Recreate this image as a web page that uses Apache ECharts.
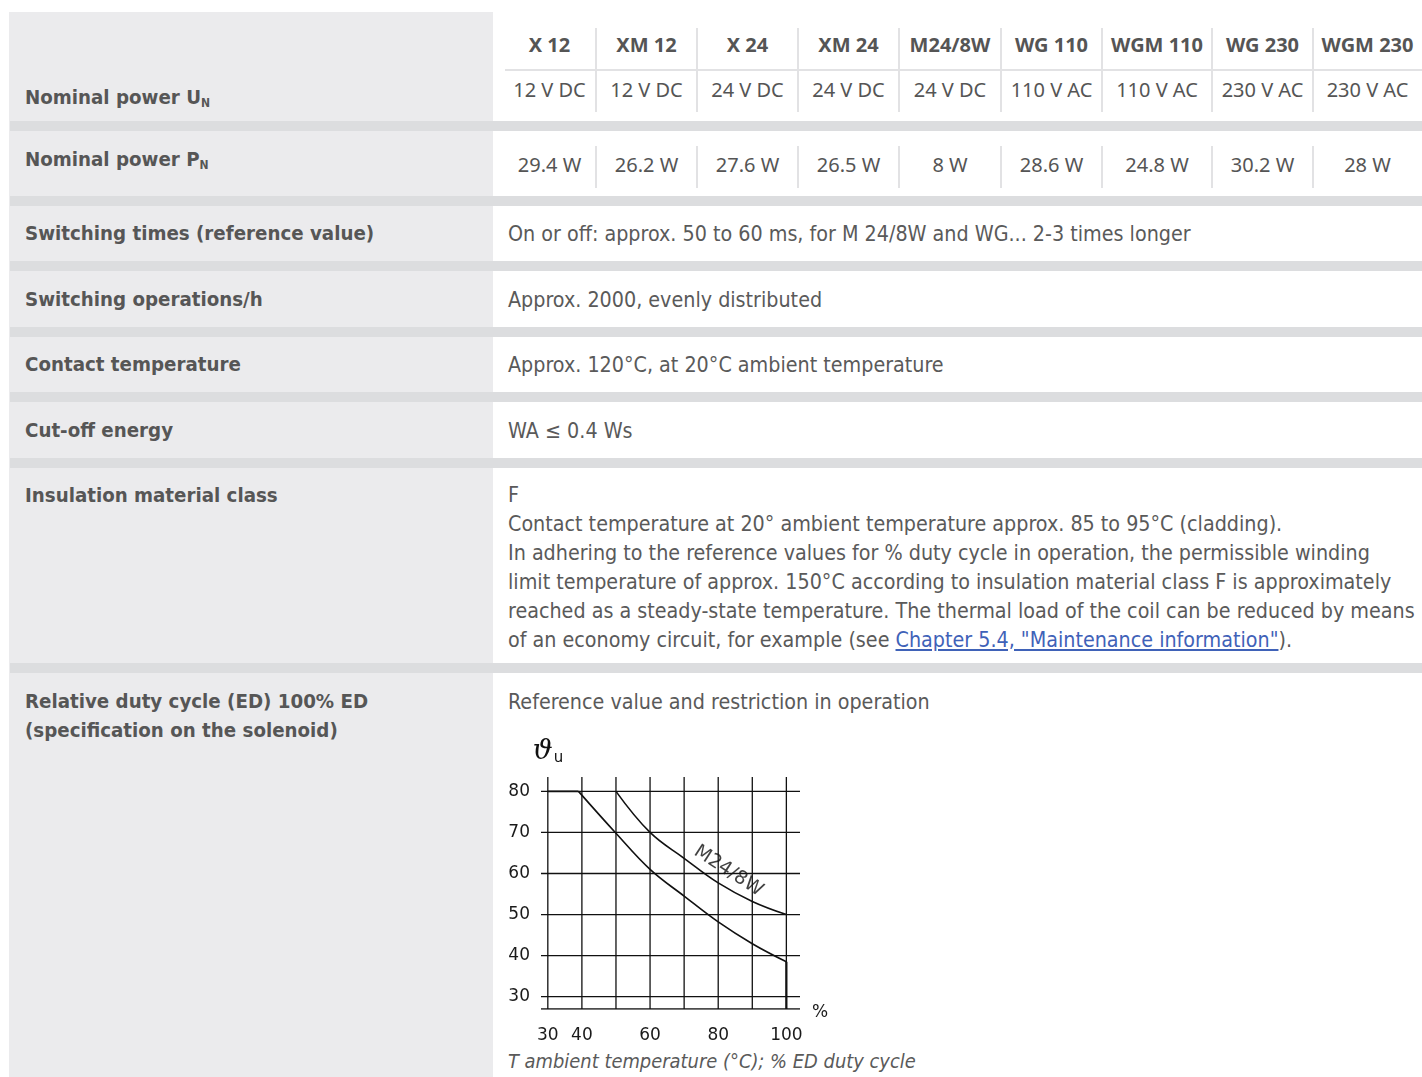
<!DOCTYPE html>
<html><head><meta charset="utf-8">
<script src="https://cdn.jsdelivr.net/npm/echarts@6/dist/echarts.min.js"></script>
<style>
html,body{margin:0;padding:0;background:#fff;width:1422px;height:1077px;overflow:hidden;}
body{position:relative;font-family:"DejaVu Sans Condensed","DejaVu Sans",sans-serif;color:#565656;}
.a{position:absolute;white-space:nowrap;}
.leftcol{left:9px;top:12px;width:484px;height:1065px;background:#ebebed;}
.band{left:10px;width:1412px;height:10px;background:#dcdddf;}
.lab{left:25px;font-weight:bold;font-size:20.3px;line-height:29px;color:#565656;}
.lab sub{font-size:12px;vertical-align:-3px;line-height:0;}
.txt{left:508px;font-size:21.3px;line-height:29px;color:#5a5a5a;}
.hname{font-family:"Noto Sans",sans-serif;font-weight:bold;font-size:20px;line-height:29px;text-align:center;color:#555;}
.hval{font-family:"Noto Sans",sans-serif;font-size:20px;line-height:29px;text-align:center;color:#555;}
.vl{width:2px;background:#e2e2e4;}
.hl{height:2px;background:#e2e2e4;}
a{color:#3f62b8;text-decoration:underline;}
.cap{left:508px;font-size:19.9px;line-height:29px;font-style:italic;color:#5a5a5a;}
#chart{position:absolute;left:495px;top:725px;width:360px;height:345px;}
</style>
</head>
<body>
<div id="page"></div>
<div id="chart"></div>
<script>
// ---------- table data ----------
const models   = ["X 12","XM 12","X 24","XM 24","M24/8W","WG 110","WGM 110","WG 230","WGM 230"];
const voltages = ["12 V DC","12 V DC","24 V DC","24 V DC","24 V DC","110 V AC","110 V AC","230 V AC","230 V AC"];
const powers   = ["29.4 W","26.2 W","27.6 W","26.5 W","8 W","28.6 W","24.8 W","30.2 W","28 W"];
const rowLabels = [
  'Nominal power U<sub>N</sub>',
  'Nominal power P<sub>N</sub>',
  'Switching times (reference value)',
  'Switching operations/h',
  'Contact temperature',
  'Cut-off energy',
  'Insulation material class',
  'Relative duty cycle (ED) 100% ED<br>(specification on the solenoid)'
];
const rowTexts = [
  null, null,
  'On or off: approx. 50 to 60 ms, for M 24/8W and WG... 2-3 times longer',
  'Approx. 2000, evenly distributed',
  'Approx. 120°C, at 20°C ambient temperature',
  'WA ≤ 0.4 Ws',
  'F<br>Contact temperature at 20° ambient temperature approx. 85 to 95°C (cladding).<br>In adhering to the reference values for % duty cycle in operation, the permissible winding<br>limit temperature of approx. 150°C according to insulation material class F is approximately<br>reached as a steady-state temperature. The thermal load of the coil can be reduced by means<br>of an economy circuit, for example (see <a>Chapter 5.4, "Maintenance information"</a>).',
  'Reference value and restriction in operation'
];
const captionText = 'T ambient temperature (°C); % ED duty cycle';

// ---------- chart data ----------
const xGridTicks = [30,40,50,60,70,80,90,100];
const yGridTicks = [30,40,50,60,70,80];
const xTickLabels = [30,40,60,80,100];
const yTickLabels = [30,40,50,60,70,80];
const xRange = [28,104];
const yRange = [27,83.5];
const lowerFlat  = [[30,80],[39,80]];
const lowerCurve = [[39,80],[50,69.8],[60,61],[70,54.5],[80,48.2],[90,42.9],[100,38.5]];
const lowerDrop  = [[100,38.5],[100,27]];
const upperCurve = [[50,80],[60,70],[70,63.7],[80,57.7],[90,53.2],[100,50]];
const curveName = 'M24/8W';
const curveNamePos = [[83,60.6]];

// ---------- layout (positions only) ----------
const rowCenters = [97,159,233,299,364,430,495,701];
const textCenters = [null,null,233,299,364,430,494,701];
const bandTops = [121,196,261,327,392,458,663];
const colEdges = [503,596,697,798,899,1001,1102,1212,1313,1422];

let h = '<div class="a leftcol"></div>';
bandTops.forEach(t => h += `<div class="a band" style="top:${t}px"></div>`);
rowLabels.forEach((l,i) => h += `<div class="a lab" style="top:${rowCenters[i]-14.5}px">${l}</div>`);
rowTexts.forEach((l,i) => { if (l) h += `<div class="a txt" style="top:${textCenters[i]-14.5}px">${l}</div>`; });
h += `<div class="a cap" style="top:${1061-14.5}px">${captionText}</div>`;
h += `<div class="a hl" style="left:505px;top:69px;width:917px"></div>`;
for (let i=0;i<models.length;i++){
  const L = colEdges[i], W = colEdges[i+1]-colEdges[i];
  h += `<div class="a hname" style="left:${L}px;width:${W}px;top:${45-15}px">${models[i]}</div>`;
  h += `<div class="a hval" style="left:${L}px;width:${W}px;top:${89-14.5}px">${voltages[i]}</div>`;
  h += `<div class="a hval" style="left:${L}px;width:${W}px;top:${164-14.5}px">${powers[i]}</div>`;
  if (i>0){
    h += `<div class="a vl" style="left:${L-1}px;top:28px;height:84px"></div>`;
    h += `<div class="a vl" style="left:${L-1}px;top:146px;height:42px"></div>`;
  }
}
document.getElementById('page').innerHTML = h;

// ---------- chart ----------
const chart = echarts.init(document.getElementById('chart'), null, {renderer:'canvas'});
const lineCol = '#111';
const gridSeries = [];
xGridTicks.forEach(t => gridSeries.push({type:'line', silent:true, symbol:'none', animation:false,
  lineStyle:{color:lineCol,width:1.3}, data:[[t,yRange[0]],[t,yRange[1]]]}));
yGridTicks.concat([yRange[0]]).forEach(v => gridSeries.push({type:'line', silent:true, symbol:'none', animation:false,
  lineStyle:{color:lineCol,width:1.3}, data:[[xRange[0],v],[xRange[1],v]]}));

const curveStyle = {color:lineCol,width:1.6};
chart.setOption({
  animation:false,
  grid:{left:46,top:52,width:259,height:232},
  xAxis:{type:'value',min:xRange[0],max:xRange[1],
    axisLine:{show:false},axisTick:{show:false},splitLine:{show:false},
    axisLabel:{customValues:xTickLabels,margin:18,fontSize:17,color:'#1a1a1a',fontFamily:'DejaVu Sans'},
    name:'{p|%}',nameLocation:'end',nameGap:12,
    nameTextStyle:{verticalAlign:'middle',
      rich:{p:{fontSize:17,color:'#1a1a1a',fontFamily:'DejaVu Sans',padding:[8,0,0,0]}}}},
  yAxis:{type:'value',min:yRange[0],max:yRange[1],
    axisLine:{show:false},axisTick:{show:false},splitLine:{show:false},
    axisLabel:{customValues:yTickLabels,margin:11,fontSize:17,color:'#1a1a1a',fontFamily:'DejaVu Sans'},
    name:'{t|ϑ}{s|u}',nameLocation:'end',nameGap:11,
    nameTextStyle:{align:'center',padding:[0,0,0,14],
      rich:{t:{fontSize:28,fontFamily:'DejaVu Serif',fontStyle:'italic',color:'#111'},
            s:{fontSize:15,fontFamily:'DejaVu Sans',color:'#111',padding:[14,0,0,1]}}}},
  series: gridSeries.concat([
    {type:'line',symbol:'none',silent:true,lineStyle:curveStyle,data:lowerFlat},
    {type:'line',symbol:'none',silent:true,smooth:0.4,lineStyle:curveStyle,data:lowerCurve},
    {type:'line',symbol:'none',silent:true,lineStyle:{color:lineCol,width:2.2},data:lowerDrop},
    {type:'line',symbol:'none',silent:true,smooth:0.4,lineStyle:curveStyle,data:upperCurve},
    {type:'scatter',silent:true,symbolSize:1,itemStyle:{color:'rgba(0,0,0,0)'},data:curveNamePos,
      label:{show:true,position:'inside',formatter:curveName,rotate:-33,fontSize:19,color:'#111',fontFamily:'DejaVu Sans'}}
  ])
});
</script>
</body></html>
